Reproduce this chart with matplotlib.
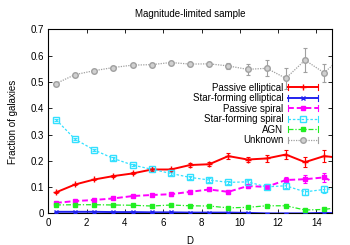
import numpy as np
import matplotlib
matplotlib.use("Agg")
from matplotlib import pyplot as plt
from matplotlib.lines import Line2D
from matplotlib.legend_handler import HandlerLine2D

plt.rcParams['font.family'] = ['Liberation Sans', 'DejaVu Sans']

# --- data ---
D = [0.4, 1.4, 2.4, 3.4, 4.4, 5.4, 6.4, 7.4, 8.4, 9.4, 10.4, 11.4, 12.4, 13.4, 14.4, 15.4]

pass_ell = [0.080, 0.110, 0.129, 0.142, 0.152, 0.167, 0.167, 0.184, 0.187, 0.218, 0.205, 0.209, 0.224, 0.195, 0.218, 0.210]
pass_ell_err = [0.003, 0.003, 0.003, 0.004, 0.004, 0.005, 0.005, 0.006, 0.007, 0.010, 0.010, 0.012, 0.016, 0.020, 0.022, 0.025]

sf_ell = [0.006, 0.006, 0.006, 0.005, 0.005, 0.004, 0.004, 0.003, 0.003, 0.003, 0.002, 0.0, 0.0, 0.0, 0.002, 0.0]
sf_ell_err = [0.001, 0.001, 0.001, 0.001, 0.001, 0.001, 0.001, 0.001, 0.001, 0.001, 0.001, 0.0, 0.0, 0.0, 0.002, 0.0]

pass_sp = [0.040, 0.047, 0.051, 0.057, 0.066, 0.070, 0.073, 0.082, 0.091, 0.082, 0.104, 0.101, 0.127, 0.130, 0.137, 0.100]
pass_sp_err = [0.003, 0.003, 0.003, 0.003, 0.004, 0.004, 0.005, 0.006, 0.007, 0.007, 0.008, 0.010, 0.012, 0.016, 0.018, 0.020]

sf_sp = [0.357, 0.282, 0.241, 0.209, 0.184, 0.168, 0.152, 0.137, 0.127, 0.118, 0.120, 0.101, 0.105, 0.082, 0.091, 0.098]
sf_sp_err = [0.004, 0.004, 0.004, 0.004, 0.004, 0.004, 0.005, 0.005, 0.006, 0.007, 0.008, 0.009, 0.010, 0.012, 0.012, 0.015]

agn = [0.032, 0.033, 0.033, 0.032, 0.031, 0.028, 0.032, 0.029, 0.028, 0.021, 0.023, 0.029, 0.029, 0.013, 0.015, 0.025]
agn_err = [0.002, 0.002, 0.002, 0.002, 0.002, 0.002, 0.002, 0.002, 0.003, 0.003, 0.003, 0.004, 0.004, 0.004, 0.005, 0.006]

unknown = [0.494, 0.528, 0.543, 0.555, 0.564, 0.566, 0.574, 0.568, 0.569, 0.561, 0.548, 0.552, 0.514, 0.583, 0.535, 0.600]
unknown_err = [0.004, 0.004, 0.004, 0.004, 0.005, 0.005, 0.006, 0.007, 0.008, 0.012, 0.022, 0.030, 0.040, 0.045, 0.035, 0.050]


# legend sample: line + marker in the middle + little end caps (gnuplot style)
class CapHandler(HandlerLine2D):
    def create_artists(self, legend, orig_handle, xdescent, ydescent,
                       width, height, fontsize, trans):
        arts = super().create_artists(legend, orig_handle, xdescent, ydescent,
                                      width, height, fontsize, trans)
        y = height / 2.0 - ydescent
        for x in (-xdescent, -xdescent + width):
            cap = Line2D([x, x], [y - 2.2, y + 2.2], color=orig_handle.get_color(), lw=0.8)
            cap.set_transform(trans)
            arts.append(cap)
        return arts


def main():
    fs = 7
    fig = plt.figure(figsize=(3.5, 2.45), dpi=100)
    ax = fig.add_axes([0.138, 0.129, 0.810, 0.751])

    # name, values, errors, colour, linestyle, marker, lw, marker face, marker size
    series = [
        ("Passive elliptical", pass_ell, pass_ell_err, "#ff0000", "-", "+", 1.4, "#ff0000", 4.5),
        ("Star-forming elliptical", sf_ell, sf_ell_err, "#2222ee", "-", "x", 1.4, "#2222ee", 3.5),
        ("Passive spiral", pass_sp, pass_sp_err, "#ff00ff", (0, (3, 1.5)), "s", 1.4, "#ff00ff", 3.5),
        ("Star-forming spiral", sf_sp, sf_sp_err, "#33e0ff", (0, (2, 1.5)), "s", 0.9, "none", 4),
        ("AGN", agn, agn_err, "#22ee22", (0, (4, 1.5, 1, 1.5)), "s", 0.9, "#22ee22", 3.5),
        ("Unknown", unknown, unknown_err, "#a0a0a0", (0, (1, 1)), "o", 0.9, "#d0d0d0", 4),
    ]

    handles = []
    for name, vals, errs, col, ls, mk, lw, face, ms in series:
        vals = np.array(vals)
        # markers sitting exactly on y=0 are hidden in the reference
        show = [i for i, v in enumerate(vals) if v > 0]
        ax.errorbar(D, vals, yerr=errs, color=col, ls=ls, lw=lw, marker=None,
                    elinewidth=0.8, capsize=1.6, capthick=0.8, zorder=3)
        ax.plot(D, vals, ls="none", marker=mk, markevery=show, ms=ms, mew=1.0,
                color=col, mfc=face, zorder=4)
        handles.append(Line2D([], [], color=col, ls=ls, lw=lw, marker=mk, ms=ms, mew=1.0,
                              mfc=face, label=name))

    ax.set_xlim(0, 14.8)
    ax.set_ylim(0, 0.7)
    ax.set_xticks(np.arange(0, 15, 2))
    ax.set_yticks(np.arange(0, 0.71, 0.1))
    ax.set_yticklabels(["0", "0.1", "0.2", "0.3", "0.4", "0.5", "0.6", "0.7"])
    ax.tick_params(direction="in", top=True, right=True, labelsize=fs, length=3,
                   width=0.6, pad=3, colors="black")
    for sp in ax.spines.values():
        sp.set_linewidth(0.8)

    ax.set_xlabel("D", fontsize=fs, labelpad=6)
    ax.set_ylabel("Fraction of galaxies", fontsize=fs, labelpad=9)
    ax.set_title("Magnitude-limited sample", fontsize=fs, pad=9)

    ax.legend(handles=handles, loc="upper right", bbox_to_anchor=(0.952, 0.711),
              frameon=False, markerfirst=False, numpoints=1, fontsize=fs,
              handlelength=3.1, handletextpad=0.5, labelspacing=0.05,
              borderpad=0, borderaxespad=0,
              handler_map={Line2D: CapHandler()})

    fig.savefig("out.png", dpi=100)


if __name__ == "__main__":
    main()
